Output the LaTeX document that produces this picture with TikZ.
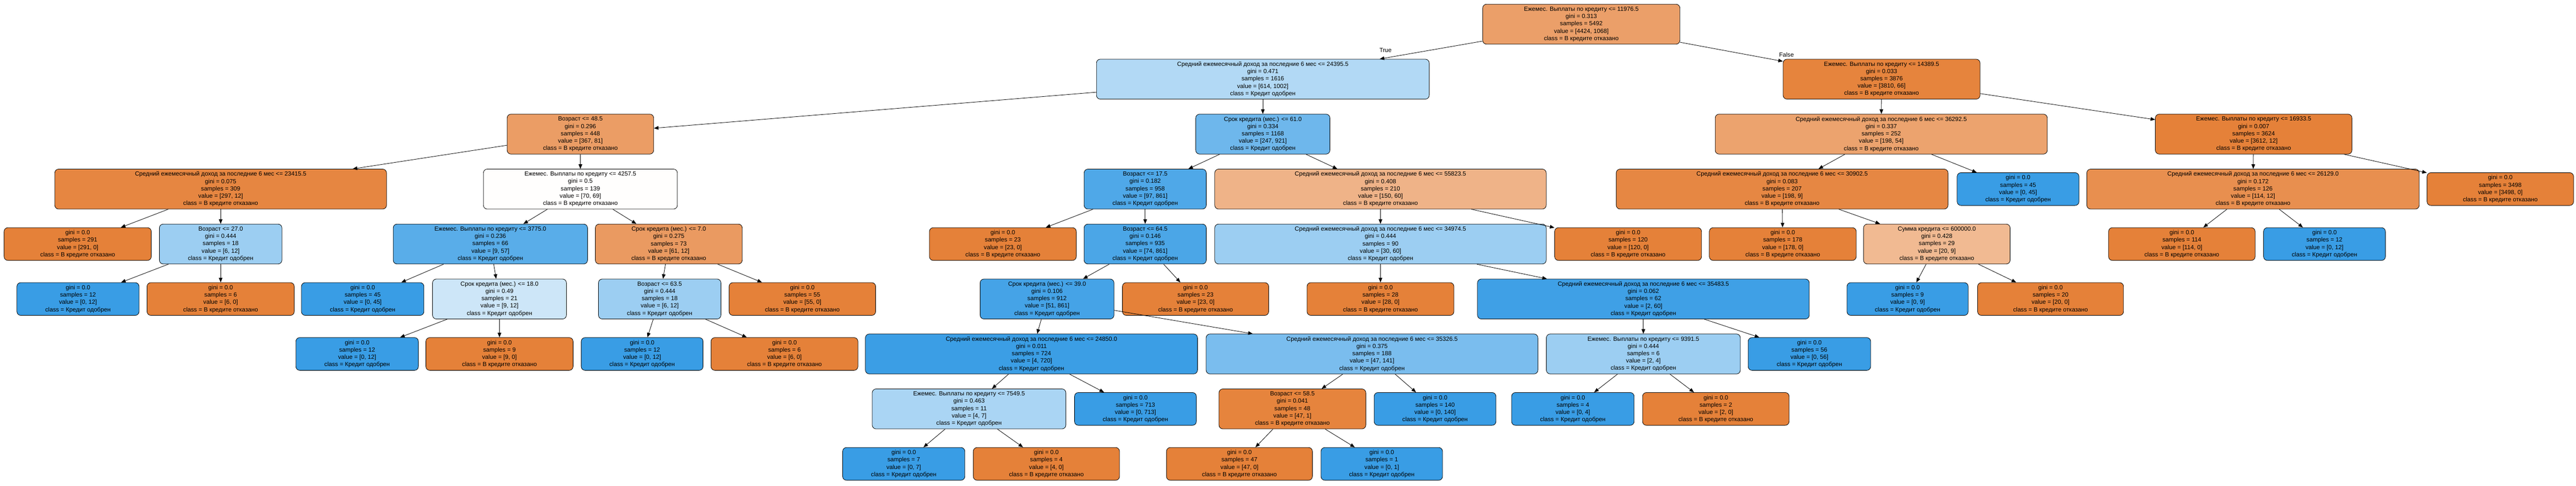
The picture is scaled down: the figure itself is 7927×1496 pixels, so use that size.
\documentclass[tikz,border=0pt]{standalone}
\usepackage{fontspec}
\setmainfont{Liberation Sans}
\usetikzlibrary{arrows.meta}
\definecolor{cO}{RGB}{229,129,57}
\definecolor{cB}{RGB}{57,157,229}
\newcommand\inc{Средний ежемесячный доход за последние 6 мес}
\newcommand\pay{Ежемес. Выплаты по кредиту}
\newcommand\clsY{class = Кредит одобрен}
\newcommand\clsN{class = В кредите отказано}
\newcommand\lfY[2]{gini = 0.0\\samples = #1\\value = #2\\\clsY}
\newcommand\lfN[2]{gini = 0.0\\samples = #1\\value = #2\\\clsN}
\newcommand\spl[5]{#1\\gini = #2\\samples = #3\\value = #4\\#5}
\begin{document}
\begin{tikzpicture}[x=1pt,y=-1pt,
  tn/.style={draw=black, line width=1.3pt, rounded corners=12pt, align=center,
    inner sep=0pt, font=\fontsize{18.5}{22.5}\selectfont},
  inr/.style={tn, minimum height=123pt},
  lf/.style={tn, minimum height=101pt},
  edge/.style={line width=1.3pt, -{Triangle[length=14pt,width=11pt]}},
  lab/.style={font=\fontsize{18.5}{22.5}\selectfont, inner sep=0pt}]
\useasboundingbox (0,0) rectangle (7927,1496);
% level 0
\node[inr, minimum width=607pt, fill=cO!76!white] (root) at (4866,74.5) {\spl{\pay{} <= 11976.5}{0.313}{5492}{[4424, 1068]}{\clsN}};
% level 1
\node[inr, minimum width=1024pt, fill=cB!39!white] (L) at (3886,243.75) {\spl{\inc{} <= 24395.5}{0.471}{1616}{[614, 1002]}{\clsY}};
\node[inr, minimum width=606pt, fill=cO!98!white] (R) at (5790,243.75) {\spl{\pay{} <= 14389.5}{0.033}{3876}{[3810, 66]}{\clsN}};
% level 2
\node[inr, minimum width=451pt, fill=cO!78!white] (LL) at (1786,413) {\spl{Возраст <= 48.5}{0.296}{448}{[367, 81]}{\clsN}};
\node[inr, minimum width=413pt, fill=cB!73!white] (LR) at (3886,413) {\spl{Срок кредита (мес.) <= 61.0}{0.334}{1168}{[247, 921]}{\clsY}};
\node[inr, minimum width=1022pt, fill=cO!73!white] (RL) at (5789,413) {\spl{\inc{} <= 36292.5}{0.337}{252}{[198, 54]}{\clsN}};
\node[inr, minimum width=605pt, fill=cO!100!white] (RR) at (6935,413) {\spl{\pay{} <= 16933.5}{0.007}{3624}{[3612, 12]}{\clsN}};
% level 3
\node[inr, minimum width=1021pt, fill=cO!96!white] (LLL) at (679,582.25) {\spl{\inc{} <= 23415.5}{0.075}{309}{[297, 12]}{\clsN}};
\node[inr, minimum width=597pt, fill=cO!1!white] (LLR) at (1786,582.25) {\spl{\pay{} <= 4257.5}{0.5}{139}{[70, 69]}{\clsN}};
\node[inr, minimum width=376pt, fill=cB!89!white] (LRL) at (3524,582.25) {\spl{Возраст <= 17.5}{0.182}{958}{[97, 861]}{\clsY}};
\node[inr, minimum width=1020pt, fill=cO!60!white] (LRR) at (4248,582.25) {\spl{\inc{} <= 55823.5}{0.408}{210}{[150, 60]}{\clsN}};
\node[inr, minimum width=1021pt, fill=cO!95!white] (RLL) at (5484,582.25) {\spl{\inc{} <= 30902.5}{0.083}{207}{[198, 9]}{\clsN}};
\node[lf, minimum width=375pt, fill=cB] (RLR) at (6210,582.25) {\lfY{45}{[0, 45]}};
\node[inr, minimum width=1023pt, fill=cO!89!white] (RRL) at (6933,582.25) {\spl{\inc{} <= 26129.0}{0.172}{126}{[114, 12]}{\clsN}};
\node[lf, minimum width=451pt, fill=cO] (RRR) at (7694,582.25) {\lfN{3498}{[3498, 0]}};
% level 4
\node[lf, minimum width=453pt, fill=cO] (LLLL) at (239,751.5) {\lfN{291}{[291, 0]}};
\node[inr, minimum width=377pt, fill=cB!50!white] (LLLR) at (679,751.5) {\spl{Возраст <= 27.0}{0.444}{18}{[6, 12]}{\clsY}};
\node[inr, minimum width=598pt, fill=cB!84!white] (LLRL) at (1509,751.5) {\spl{\pay{} <= 3775.0}{0.236}{66}{[9, 57]}{\clsY}};
\node[inr, minimum width=452pt, fill=cO!80!white] (LLRR) at (2058,751.5) {\spl{Срок кредита (мес.) <= 7.0}{0.275}{73}{[61, 12]}{\clsN}};
\node[lf, minimum width=452pt, fill=cO] (LRLL) at (3086,751.5) {\lfN{23}{[23, 0]}};
\node[inr, minimum width=376pt, fill=cB!91!white] (LRLR) at (3524,751.5) {\spl{Возраст <= 64.5}{0.146}{935}{[74, 861]}{\clsY}};
\node[inr, minimum width=1020pt, fill=cB!50!white] (LRRL) at (4248,751.5) {\spl{\inc{} <= 34974.5}{0.444}{90}{[30, 60]}{\clsY}};
\node[lf, minimum width=452pt, fill=cO] (LRRR) at (5010,751.5) {\lfN{120}{[120, 0]}};
\node[lf, minimum width=452pt, fill=cO] (RLLL) at (5486,751.5) {\lfN{178}{[178, 0]}};
\node[inr, minimum width=451pt, fill=cO!55!white] (RLLR) at (5960,751.5) {\spl{Сумма кредита <= 600000.0}{0.428}{29}{[20, 9]}{\clsN}};
\node[lf, minimum width=451pt, fill=cO] (RRLL) at (6714,751.5) {\lfN{114}{[114, 0]}};
\node[lf, minimum width=375pt, fill=cB] (RRLR) at (7153,751.5) {\lfY{12}{[0, 12]}};
% level 5
\node[lf, minimum width=376pt, fill=cB] (LLLRL) at (240,920.75) {\lfY{12}{[0, 12]}};
\node[lf, minimum width=453pt, fill=cO] (LLLRR) at (679,920.75) {\lfN{6}{[6, 0]}};
\node[lf, minimum width=377pt, fill=cB] (LLRLL) at (1116,920.75) {\lfY{45}{[0, 45]}};
\node[inr, minimum width=412pt, fill=cB!25!white] (LLRLR) at (1537,920.75) {\spl{Срок кредита (мес.) <= 18.0}{0.49}{21}{[9, 12]}{\clsY}};
\node[inr, minimum width=377pt, fill=cB!50!white] (LLRRL) at (2030,920.75) {\spl{Возраст <= 63.5}{0.444}{18}{[6, 12]}{\clsY}};
\node[lf, minimum width=451pt, fill=cO] (LLRRR) at (2469,920.75) {\lfN{55}{[55, 0]}};
\node[inr, minimum width=412pt, fill=cB!94!white] (LRLRL) at (3222,920.75) {\spl{Срок кредита (мес.) <= 39.0}{0.106}{912}{[51, 861]}{\clsY}};
\node[lf, minimum width=450pt, fill=cO] (LRLRR) at (3679,920.75) {\lfN{23}{[23, 0]}};
\node[lf, minimum width=452pt, fill=cO] (LRRLL) at (4248,920.75) {\lfN{28}{[28, 0]}};
\node[inr, minimum width=1021pt, fill=cB!97!white] (LRRLR) at (5057,920.75) {\spl{\inc{} <= 35483.5}{0.062}{62}{[2, 60]}{\clsY}};
\node[lf, minimum width=373pt, fill=cB] (RLLRL) at (5870,920.75) {\lfY{9}{[0, 9]}};
\node[lf, minimum width=449pt, fill=cO] (RLLRR) at (6310,920.75) {\lfN{20}{[20, 0]}};
% level 6
\node[lf, minimum width=377pt, fill=cB] (LLRLRL) at (1099,1090) {\lfY{12}{[0, 12]}};
\node[lf, minimum width=453pt, fill=cO] (LLRLRR) at (1537,1090) {\lfN{9}{[9, 0]}};
\node[lf, minimum width=375pt, fill=cB] (LLRRLL) at (1976,1090) {\lfY{12}{[0, 12]}};
\node[lf, minimum width=452pt, fill=cO] (LLRRLR) at (2414,1090) {\lfN{6}{[6, 0]}};
\node[inr, minimum width=1022pt, fill=cB!99!white] (LRLRLL) at (3174,1090) {\spl{\inc{} <= 24850.0}{0.011}{724}{[4, 720]}{\clsY}};
\node[inr, minimum width=1021pt, fill=cB!67!white] (LRLRLR) at (4222,1090) {\spl{\inc{} <= 35326.5}{0.375}{188}{[47, 141]}{\clsY}};
\node[inr, minimum width=597pt, fill=cB!50!white] (LRRLRL) at (5057,1090) {\spl{\pay{} <= 9391.5}{0.444}{6}{[2, 4]}{\clsY}};
\node[lf, minimum width=377pt, fill=cB] (LRRLRR) at (5568,1090) {\lfY{56}{[0, 56]}};
% level 7
\node[inr, minimum width=596pt, fill=cB!43!white] (LRLRLLL) at (2982,1259.25) {\spl{\pay{} <= 7549.5}{0.463}{11}{[4, 7]}{\clsY}};
\node[lf, minimum width=375pt, fill=cB] (LRLRLLR) at (3494,1259.25) {\lfY{713}{[0, 713]}};
\node[inr, minimum width=452pt, fill=cO!98!white] (LRLRLRL) at (3977,1259.25) {\spl{Возраст <= 58.5}{0.041}{48}{[47, 1]}{\clsN}};
\node[lf, minimum width=375pt, fill=cB] (LRLRLRR) at (4416,1259.25) {\lfY{140}{[0, 140]}};
\node[lf, minimum width=377pt, fill=cB] (LRRLRLL) at (4840,1259.25) {\lfY{4}{[0, 4]}};
\node[lf, minimum width=451pt, fill=cO] (LRRLRLR) at (5280,1259.25) {\lfN{2}{[2, 0]}};
% level 8
\node[lf, minimum width=376pt, fill=cB] (P8a) at (2781,1428.5) {\lfY{7}{[0, 7]}};
\node[lf, minimum width=450pt, fill=cO] (P8b) at (3220,1428.5) {\lfN{4}{[4, 0]}};
\node[lf, minimum width=449pt, fill=cO] (P8c) at (3814,1428.5) {\lfN{47}{[47, 0]}};
\node[lf, minimum width=374pt, fill=cB] (P8d) at (4252,1428.5) {\lfY{1}{[0, 1]}};
% edges
\draw[edge] (root) -- node[lab, pos=1, xshift=18pt, yshift=27pt] {True} (L);
\draw[edge] (root) -- node[lab, pos=1, xshift=11pt, yshift=21pt] {False} (R);
\foreach \a/\b in {L/LL, L/LR, R/RL, R/RR,
  LL/LLL, LL/LLR, LR/LRL, LR/LRR, RL/RLL, RL/RLR, RR/RRL, RR/RRR,
  LLL/LLLL, LLL/LLLR, LLR/LLRL, LLR/LLRR, LRL/LRLL, LRL/LRLR, LRR/LRRL, LRR/LRRR,
  RLL/RLLL, RLL/RLLR, RRL/RRLL, RRL/RRLR,
  LLLR/LLLRL, LLLR/LLLRR, LLRL/LLRLL, LLRL/LLRLR, LLRR/LLRRL, LLRR/LLRRR,
  LRLR/LRLRL, LRLR/LRLRR, LRRL/LRRLL, LRRL/LRRLR, RLLR/RLLRL, RLLR/RLLRR,
  LLRLR/LLRLRL, LLRLR/LLRLRR, LLRRL/LLRRLL, LLRRL/LLRRLR,
  LRLRL/LRLRLL, LRLRL/LRLRLR, LRRLR/LRRLRL, LRRLR/LRRLRR,
  LRLRLL/LRLRLLL, LRLRLL/LRLRLLR, LRLRLR/LRLRLRL, LRLRLR/LRLRLRR,
  LRRLRL/LRRLRLL, LRRLRL/LRRLRLR,
  LRLRLLL/P8a, LRLRLLL/P8b, LRLRLRL/P8c, LRLRLRL/P8d}
  \draw[edge] (\a) -- (\b);
\end{tikzpicture}
\end{document}
